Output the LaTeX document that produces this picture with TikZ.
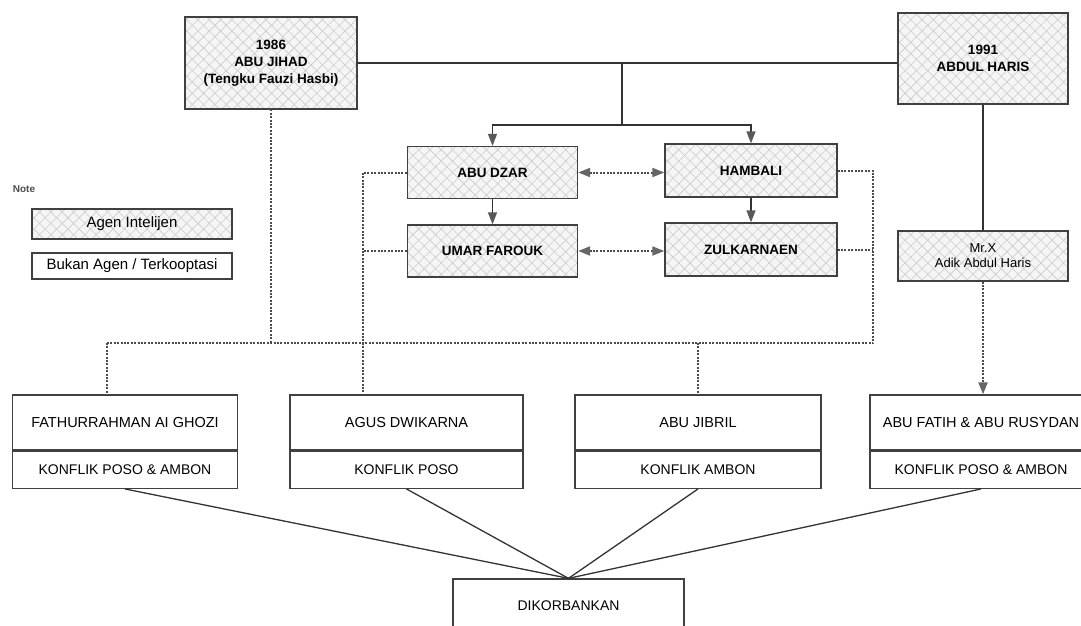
\documentclass[tikz,border=0pt]{standalone}
\usepackage{fontspec}
\setmainfont{Liberation Sans}
\usetikzlibrary{arrows.meta, positioning, patterns.meta}

\begin{document}
\begin{tikzpicture}[
    x=1pt, y=-1pt,
    line width=1.3pt,
    agenbox/.style={rectangle, draw=black!75, preaction={fill=gray!8}, pattern={Hatch[angle=45, distance=8pt, line width=0.6pt]}, pattern color=gray!40, align=center, font=\fontsize{13.5}{17}\selectfont\bfseries, inner sep=2pt},
    plainbox/.style={rectangle, draw=black!75, align=center, inner sep=2pt},
    namebox/.style={plainbox, minimum height=55pt, font=\fontsize{14.5}{17}\selectfont},
    konfbox/.style={plainbox, minimum height=37pt, font=\fontsize{14}{17}\selectfont},
    link/.style={draw=black!80},
    arrow/.style={-{Triangle[length=12pt, width=9pt, color=black!65]}, black!80},
    dotline/.style={dash pattern=on 2pt off 1.4pt, line width=2pt, black!70},
    dotarrow/.style={dotline, {Triangle[length=12pt, width=9pt, color=black!60]}-{Triangle[length=12pt, width=9pt, color=black!60]}}
  ]
    \useasboundingbox (0,0) rectangle (1081,625);
    \clip (0,0) rectangle (1081,625);

    % Top level
    \node[agenbox, minimum width=172pt, minimum height=92pt] (jihad) at (271,63) {1986\\ABU JIHAD\\(Tengku Fauzi Hasbi)};
    \node[agenbox, minimum width=170pt, minimum height=91pt] (haris) at (983,58.5) {1991\\ABDUL HARIS};

    % Middle cell
    \node[agenbox, minimum width=170pt, minimum height=52pt] (dzar) at (492.5,172.5) {ABU DZAR};
    \node[agenbox, minimum width=172pt, minimum height=53pt] (hambali) at (751,170.5) {HAMBALI};
    \node[agenbox, minimum width=170pt, minimum height=52pt] (umar) at (492.5,251) {UMAR FAROUK};
    \node[agenbox, minimum width=172pt, minimum height=53pt] (zulk) at (751,249.5) {ZULKARNAEN};
    \node[agenbox, font=\fontsize{13}{15}\selectfont, minimum width=170pt, minimum height=50pt] (mrx) at (983,256) {Mr.X\\Adik Abdul Haris};

    % Legend
    \node[font=\fontsize{10}{11}\selectfont\bfseries, text=black!70] (note) at (24,189) {Note};
    \node[agenbox, font=\fontsize{15}{17}\selectfont, minimum width=200pt, minimum height=30pt] (legagen) at (132,224) {Agen Intelijen};
    \node[plainbox, font=\fontsize{15}{17}\selectfont, minimum width=200pt, minimum height=26pt] (legbukan) at (132,266) {Bukan Agen / Terkooptasi};

    % Bottom row
    \node[namebox, minimum width=225pt] (fath) at (125,422.5) {FATHURRAHMAN AI GHOZI};
    \node[konfbox, minimum width=225pt, below=0pt of fath] (fathk) {KONFLIK POSO \& AMBON};
    \node[namebox, minimum width=233pt] (agus) at (406.5,422.5) {AGUS DWIKARNA};
    \node[konfbox, minimum width=233pt, below=0pt of agus] (agusk) {KONFLIK POSO};
    \node[namebox, minimum width=246pt] (jibril) at (698,422.5) {ABU JIBRIL};
    \node[konfbox, minimum width=246pt, below=0pt of jibril] (jibrilk) {KONFLIK AMBON};
    \node[namebox, minimum width=222pt] (fatih) at (981,422.5) {ABU FATIH \& ABU RUSYDAN};
    \node[konfbox, minimum width=222pt, below=0pt of fatih] (fatihk) {KONFLIK POSO \& AMBON};

    \node[plainbox, font=\fontsize{14}{17}\selectfont, minimum width=231pt, minimum height=54pt] (dik) at (568.5,606) {DIKORBANKAN};

    % Solid links
    \coordinate (fork) at (622,125);
    \draw[link] (jihad.east) -- (jihad.east -| haris.west);
    \draw[link] (jihad.east -| fork) -- (fork);
    \draw[arrow] (fork) -| (dzar.north);
    \draw[arrow] (fork) -| (hambali.north);
    \draw[arrow] (dzar) -- (umar);
    \draw[arrow] (hambali) -- (zulk);
    \draw[link] (haris) -- (mrx);

    % Dotted links
    \draw[dotarrow] (dzar.east) -- (dzar.east -| hambali.west);
    \draw[dotarrow] (umar.east) -- (umar.east -| zulk.west);

    \coordinate (leftrail) at (363,343);
    \coordinate (rightrail) at (873,343);
    \coordinate (fathtap) at (107,343);
    \draw[dotline] (dzar.west) -| (leftrail) -- (leftrail |- agus.north);
    \draw[dotline] (umar.west) -- (umar.west -| leftrail);
    \draw[dotline] (hambali.east) -| (rightrail);
    \draw[dotline] (zulk.east) -- (zulk.east -| rightrail);
    \draw[dotline] (jihad.south) -- (jihad.south |- leftrail);
    \draw[dotline] (fathtap) -- (rightrail);
    \draw[dotline] (fathtap) -- (fathtap |- fath.north);
    \draw[dotline] (jibril.north |- rightrail) -- (jibril.north);
    \draw[dotline, -{Triangle[length=12pt, width=9pt, color=black!60]}] (mrx.south) -- (mrx.south |- fatih.north);

    % To the sacrificed
    \foreach \b in {fathk, agusk, jibrilk, fatihk}
      \draw[link] (\b.south) -- (dik.north);
\end{tikzpicture}
\end{document}
